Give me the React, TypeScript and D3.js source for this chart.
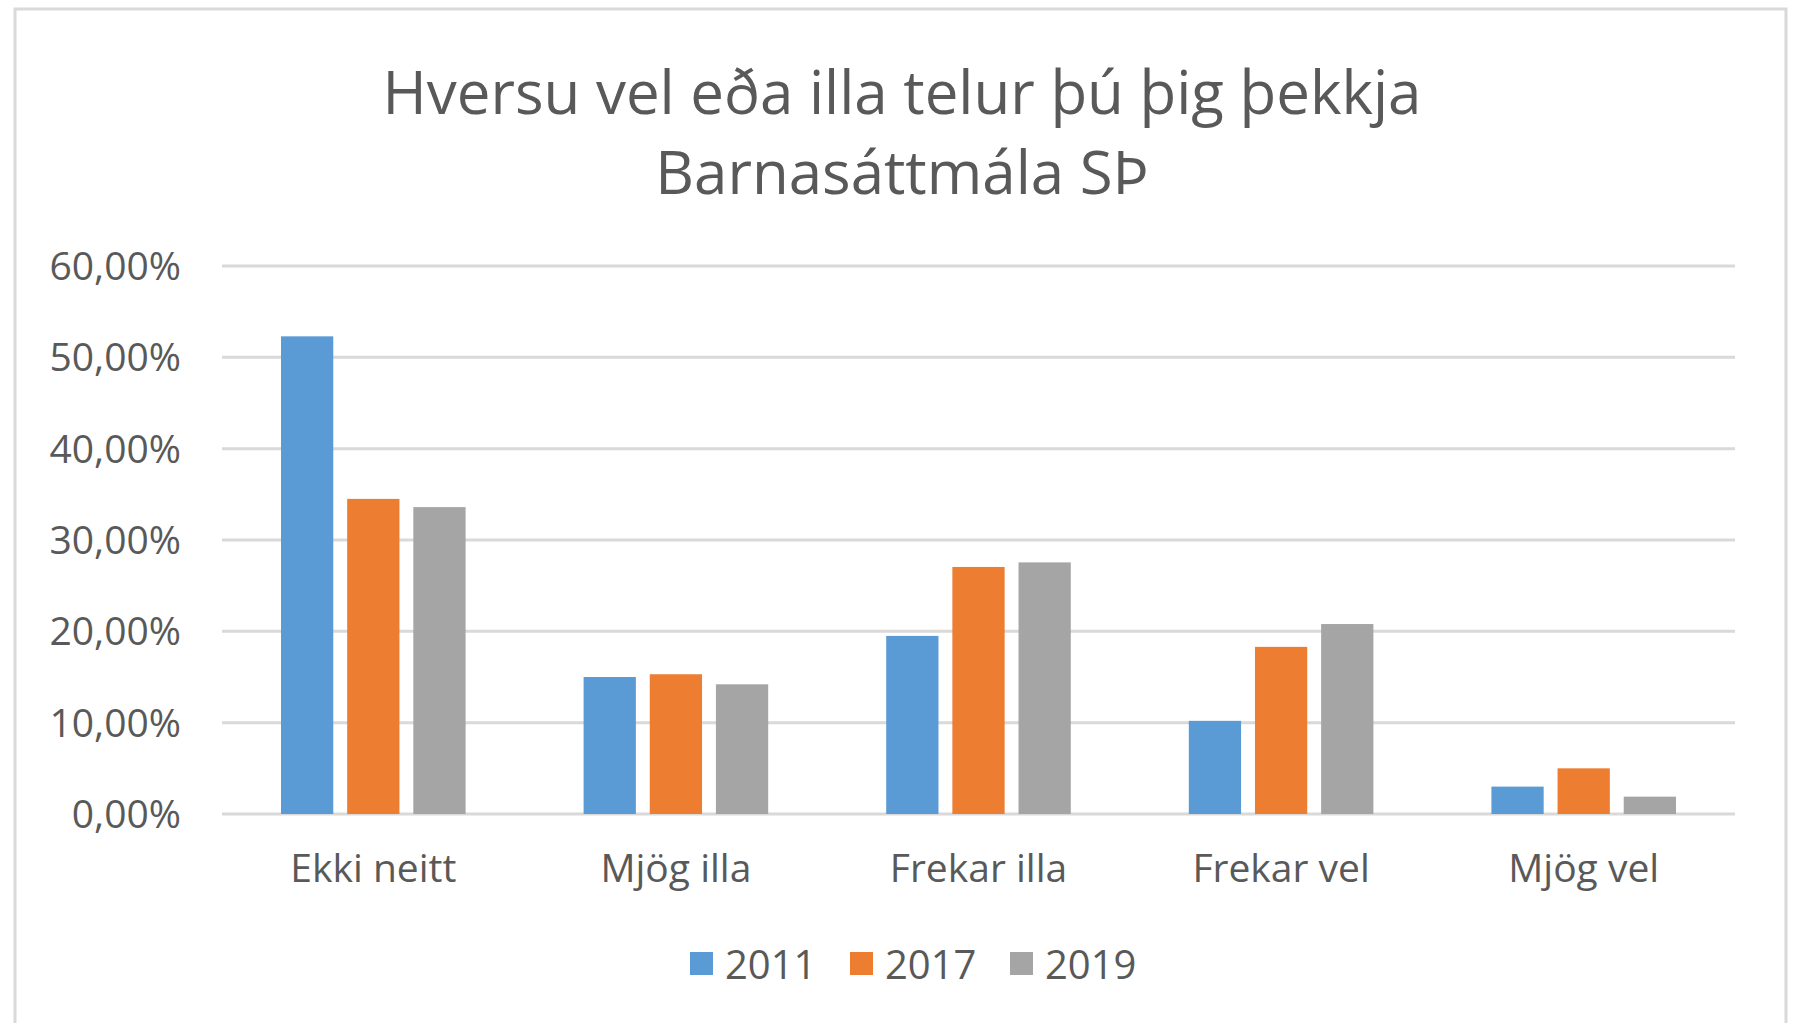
import React, { useEffect, useRef } from 'react'
import * as d3 from 'd3'

const categories = ['Ekki neitt', 'Mjög illa', 'Frekar illa', 'Frekar vel', 'Mjög vel']
const seriesNames = ['2011', '2017', '2019']
const values2011 = [52.3, 15.0, 19.5, 10.2, 3.0]
const values2017 = [34.5, 15.3, 27.05, 18.3, 5.0]
const values2019 = [33.6, 14.2, 27.55, 20.8, 1.9]
const yTicks = [0, 10, 20, 30, 40, 50, 60]
const titleLines = ['Hversu vel eða illa telur þú þig þekkja', 'Barnasáttmála SÞ']
const colors = ['#5B9BD5', '#ED7D31', '#A5A5A5']

const W = 1800
const H = 1023
const FONT = '"Open Sans", sans-serif'
const TEXT = '#595959'

export default function App() {
  const svgRef = useRef<SVGSVGElement>(null)

  useEffect(() => {
    const svg = d3.select(svgRef.current)
    svg.selectAll('*').remove()

    const margin = { left: 222, right: W - 1735, top: 266, bottom: H - 814 }
    const series = [values2011, values2017, values2019]

    svg.append('rect')
      .attr('width', W).attr('height', H).attr('fill', '#fff')

    // outer frame
    svg.append('rect')
      .attr('x', 15).attr('y', 9)
      .attr('width', 1786 - 15).attr('height', 1040)
      .attr('fill', 'none').attr('stroke', '#D9D9D9').attr('stroke-width', 3)

    const title = svg.append('text')
      .attr('text-anchor', 'middle')
      .attr('fill', TEXT)
      .attr('font-family', FONT)
      .attr('font-size', 60)
    titleLines.forEach((t, i) => {
      title.append('tspan').attr('x', 902).attr('y', 114 + i * 80).text(t)
    })

    const x0 = d3.scaleBand<string>()
      .domain(categories)
      .range([margin.left, W - margin.right])
      .paddingInner(0.39)
      .paddingOuter(0.195)

    const x1 = d3.scaleBand<string>()
      .domain(seriesNames)
      .range([0, x0.bandwidth()])
      .paddingInner(0.21)

    const y = d3.scaleLinear().domain([0, 60]).range([H - margin.bottom, margin.top])

    // grid
    svg.append('g')
      .selectAll('line')
      .data(yTicks)
      .enter()
      .append('line')
      .attr('x1', margin.left)
      .attr('x2', W - margin.right)
      .attr('y1', d => y(d))
      .attr('y2', d => y(d))
      .attr('stroke', '#D9D9D9')
      .attr('stroke-width', 3)

    svg.append('g')
      .selectAll('text')
      .data(yTicks)
      .enter()
      .append('text')
      .attr('x', 181)
      .attr('y', d => y(d))
      .attr('dy', '0.36em')
      .attr('text-anchor', 'end')
      .attr('fill', TEXT)
      .attr('font-family', FONT)
      .attr('font-size', 39)
      .text(d => d3.format('.2f')(d).replace('.', ',') + '%')

    // bars
    const groups = svg.append('g')
      .selectAll('g')
      .data(categories)
      .enter()
      .append('g')
      .attr('transform', d => `translate(${x0(d)},0)`)

    groups.selectAll('rect')
      .data((_, i) => series.map((s, j) => ({ key: seriesNames[j], v: s[i], c: colors[j] })))
      .enter()
      .append('rect')
      .attr('x', d => x1(d.key)!)
      .attr('width', x1.bandwidth())
      .attr('y', d => y(d.v))
      .attr('height', d => y(0) - y(d.v))
      .attr('fill', d => d.c)

    // category labels
    svg.append('g')
      .selectAll('text')
      .data(categories)
      .enter()
      .append('text')
      .attr('x', d => x0(d)! + x0.bandwidth() / 2)
      .attr('y', 882)
      .attr('text-anchor', 'middle')
      .attr('fill', TEXT)
      .attr('font-family', FONT)
      .attr('font-size', 39)
      .text(d => d)

    // legend
    const legendX = [690, 850, 1010]
    const leg = svg.append('g')
      .selectAll('g')
      .data(seriesNames)
      .enter()
      .append('g')
      .attr('transform', (_, i) => `translate(${legendX[i]},952)`)
    leg.append('rect')
      .attr('width', 23).attr('height', 23)
      .attr('fill', (_, i) => colors[i])
    leg.append('text')
      .attr('x', 35)
      .attr('y', 27)
      .attr('fill', TEXT)
      .attr('font-family', FONT)
      .attr('font-size', 40)
      .text(d => d)
  }, [])

  return (
    <svg
      ref={svgRef}
      width={W}
      height={H}
      style={{ position: 'absolute', left: 0, top: 0, display: 'block' }}
    />
  )
}
